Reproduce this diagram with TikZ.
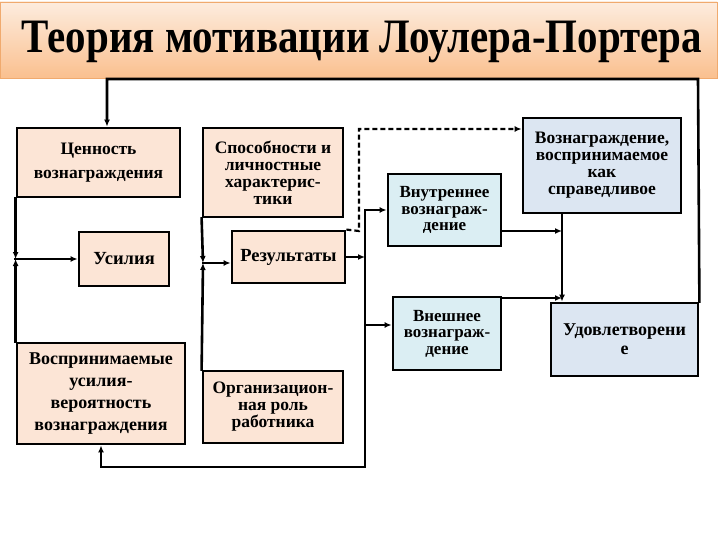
\documentclass[tikz,border=0pt]{standalone}
\usepackage{fontspec}
\setmainfont{Liberation Serif}
\usetikzlibrary{arrows.meta,calc}
\definecolor{peach}{RGB}{252,229,214}
\definecolor{cyanbox}{RGB}{219,238,243}
\definecolor{bluebox}{RGB}{220,230,242}
\definecolor{bantop}{RGB}{253,236,222}
\definecolor{banbot}{RGB}{250,192,143}
\definecolor{banedge}{RGB}{240,170,110}
\newcommand{\fs}[2]{\bfseries\fontsize{#1}{#2}\selectfont}
\tikzset{
  box/.style={draw=black, line width=2.8pt, align=center, inner sep=0pt},
  pbox/.style={box, fill=peach},
  cbox/.style={box, fill=cyanbox},
  bbox/.style={box, fill=bluebox},
  conn/.style={line width=2.6pt, line cap=rect},
  arr/.style={conn, -{Latex[length=7pt,width=6pt]}},
  darr/.style={line width=2.2pt, dash pattern=on 5pt off 3pt, -{Latex[length=7pt,width=6pt]}}
}
\begin{document}
\begin{tikzpicture}[x=1pt,y=-1pt]
\useasboundingbox (0,0) rectangle (720,540);
\fill[white] (0,0) rectangle (720,540);
% banner
\shade[top color=bantop, bottom color=banbot, draw=banedge, line width=0.6pt] (0,2) rectangle (717,78);
\node (title) at (362,42) {\resizebox{680pt}{\height}{\fontsize{48}{52}\selectfont\bfseries Теория мотивации Лоулера-Портера}};

% boxes
\node[pbox, minimum width=163pt, minimum height=69pt, font=\fs{17.5}{24}] (ceno) at (98.5,162.5)
  {Ценность\\вознаграждения};
\node[pbox, minimum width=140pt, minimum height=89pt, font=\fs{17.5}{17}] (spos) at (273,172.5)
  {Способности и\\личностные\\характерис-\\тики};
\node[pbox, minimum width=90pt, minimum height=54pt, font=\fs{18.5}{20}] (usil) at (124,259)
  {Усилия};
\node[pbox, minimum width=113pt, minimum height=52pt, font=\fs{18.5}{20}] (rez) at (288.5,257)
  {Результаты};
\node[cbox, minimum width=113pt, minimum height=72pt, font=\fs{17}{16.5}] (vnut) at (444.5,210)
  {Внутреннее\\вознаграж-\\дение};
\node[bbox, minimum width=158pt, minimum height=95pt, font=\fs{17.5}{17}] (spr) at (602,165.5)
  {Вознаграждение,\\воспринимаемое\\как\\справедливое};
\node[cbox, minimum width=108pt, minimum height=73pt, font=\fs{17}{16.5}] (vnesh) at (447,333.5)
  {Внешнее\\вознаграж-\\дение};
\node[bbox, minimum width=147pt, minimum height=73pt, font=\fs{18}{19}] (udov) at (624.5,339.5)
  {Удовлетворени\\е};
\node[pbox, minimum width=168pt, minimum height=101pt, font=\fs{18}{22}] (vosp) at (101,393.5)
  {Воспринимаемые\\усилия-\\вероятность\\вознаграждения};
\node[pbox, minimum width=140pt, minimum height=72pt, font=\fs{17.5}{17}] (org) at (273,407)
  {Организацион-\\ная роль\\работника};

% junction coordinates
\coordinate (j1) at (ceno.south west |- usil.west);
\coordinate (j2) at (203,263);
\coordinate (rv) at (365,257);
\coordinate (rtop) at (365,210);
\coordinate (rbot) at (365,467);
\coordinate (rmid) at (365,325);
\coordinate (lb) at (101,467);
\coordinate (dc) at (359,231);
\coordinate (dt) at (359,129);
\coordinate (sv) at (562,213);
\coordinate (sa) at (562,231);
\coordinate (sb) at (562,298);
\coordinate (tr) at (698,79);
\coordinate (tl) at (107,79);

% left column junction
\draw[arr] (ceno.south west) -- (j1);
\draw[arr] (vosp.north west) -- (j1);
\draw[arr] (j1) -- (j1 -| usil.west);
% middle column junction
\draw[arr] (spos.south west) -- (j2);
\draw[arr] (org.north west) -- (j2);
\draw[arr] (j2) -- (j2 -| rez.west);
% results outputs
\draw[arr] (rez.east |- rv) -- (rv);
\draw[conn] (rtop) -- (rbot);
\draw[arr] (rtop) -- (rtop -| vnut.west);
\draw[arr] (rmid) -- (rmid -| vnesh.west);
\draw[arr] (rbot) -- (lb) -- (lb |- vosp.south);
% dashed
\draw[darr] (rez.north east) -- (dc) -- (dt) -- (dt -| spr.west);
% right side
\draw[arr] (vnut.east |- sa) -- (sa);
\draw[arr] (sv) -- (sv |- udov.north);
\draw[arr] (vnesh.north east |- sb) -- (sb);
% top loop
\draw[arr] (udov.north east) -- (tr) -- (tl) -- (tl |- ceno.north);
\end{tikzpicture}
\end{document}
